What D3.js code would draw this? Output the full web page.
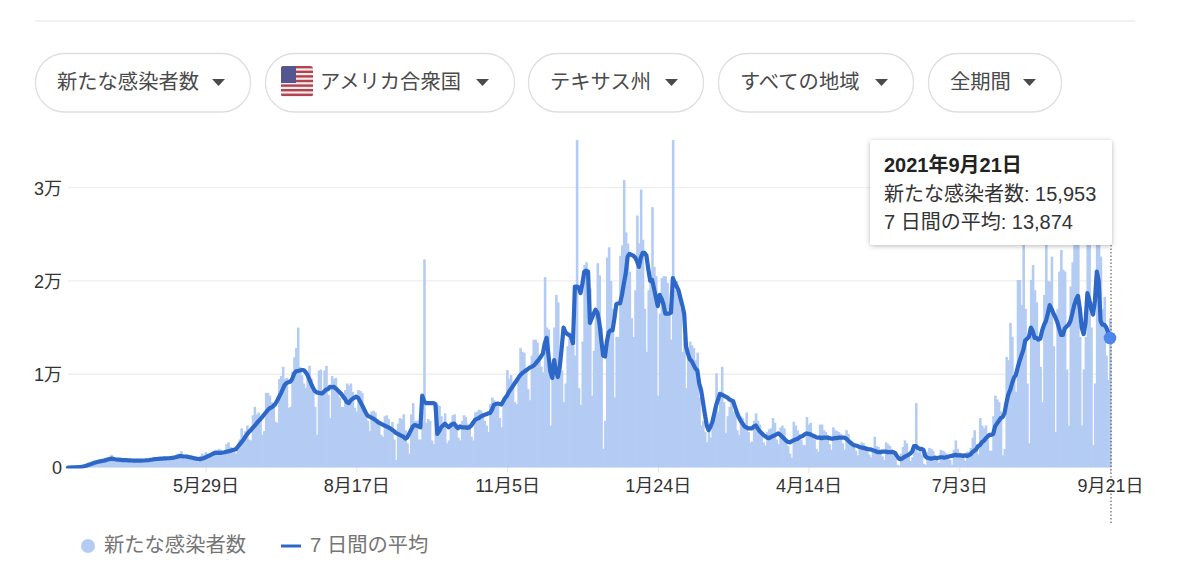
<!DOCTYPE html>
<html lang="ja">
<head>
<meta charset="utf-8">
<script src="https://cdn.jsdelivr.net/npm/d3@7"></script>
<style>
html,body{margin:0;padding:0;background:#fff;}
svg{display:block;}
text{font-family:"Liberation Sans","Noto Sans CJK JP",sans-serif;}
</style>
</head>
<body>
<div id="chart"></div>
<script>
// ---------- data ----------
const startDate = "2020-03-17";
const endDate = "2021-09-21";
const filterLabels = ["新たな感染者数","アメリカ合衆国","テキサス州","すべての地域","全期間"];
const seriesNames = ["新たな感染者数","7 日間の平均"];
const xTickDates = ["2020-05-29","2020-08-17","2020-11-05","2021-01-24","2021-04-14","2021-07-03","2021-09-21"];
const xTickLabels = ["5月29日","8月17日","11月5日","1月24日","4月14日","7月3日","9月21日"];
const yTickValues = [0,10000,20000,30000];
const yTickLabels = ["0","1万","2万","3万"];
const tooltipTitle = "2021年9月21日";
const tooltipCases = 15953;
const tooltipAverage = 13874;

const dailyCases = [
10,10,30,30,40,50,60,90,120,230,
310,420,500,560,620,680,770,800,720,680,
640,950,1100,1350,1000,800,640,650,880,900,
880,900,800,620,600,830,840,880,850,760,
560,550,850,880,950,1050,800,700,680,1050,
1100,1150,1100,950,780,800,1200,1300,1450,1500,
1750,1000,950,1350,1250,1200,1100,900,700,650,
1200,1500,1350,1650,1500,1250,1200,1800,1900,1850,
2000,1900,1300,1350,2500,2700,2200,2100,1900,1500,
2200,3000,4200,3500,3900,4500,3000,2900,5600,6500,
5700,5900,5200,3500,3900,8000,8000,7700,7000,6900,
4900,4800,9500,9800,10800,9500,9600,6400,6500,10300,
11800,12800,15000,10800,9900,9000,8500,10300,10900,9500,
8500,6500,3500,10400,10500,8300,10400,10900,7800,5300,
9800,9500,9600,8400,7500,6500,6500,8300,9000,8800,
9000,8100,6400,6000,8300,8200,8000,6500,5800,5000,
3900,6000,6100,5900,5200,4700,3500,3300,5500,5600,
5200,4000,4900,3000,800,4700,5300,5200,5700,4000,
2600,1500,5700,6900,5000,5000,3000,3000,4800,22300,
4800,5200,5000,2900,2500,6500,6700,6600,5500,4600,
5800,2600,2900,4900,5600,5700,4700,3200,2900,5000,
5600,5400,4700,4300,3300,2900,5900,6000,6200,6100,
5800,5000,4500,3800,6800,7500,7200,7000,6600,5300,
4300,7500,7600,10450,9500,9900,8800,7000,6800,9900,
12800,12400,12300,10500,8400,7200,12000,13700,13700,13400,
11500,10800,10200,20400,15000,14800,4500,9400,15000,18500,
17700,12000,10400,7000,9000,13000,14500,13800,13000,12000,
40000,8500,6700,13500,21700,22000,17000,19200,7700,12500,
17000,21900,20600,15000,2000,5000,22500,23600,20000,17000,
7500,14000,14000,22700,23800,30800,25200,24000,21000,16000,
14000,19000,27000,24000,29800,24400,17000,12400,19000,21000,
27900,21500,20500,7700,16500,20300,20500,20500,19800,17500,
13700,40000,19000,20000,18500,17000,12400,14000,8500,12500,
13500,13100,12800,11500,12300,7500,4500,5000,3800,2700,
4000,3200,5000,5800,10100,6000,7500,10800,7000,3700,
5500,6500,7300,6000,6200,4000,3500,5500,5300,4800,
5900,3800,2700,2800,5000,5800,5000,4600,3800,2700,
2400,3800,4100,4200,5300,4800,3000,2500,4300,4500,
4200,3000,2300,1500,1000,4900,4500,4000,3600,3000,
2400,2400,5400,4600,4800,3500,3000,2000,1700,4600,
4600,4000,3800,3500,2500,1900,4300,4000,3900,3800,
3600,2600,1900,4000,3600,2800,2500,2500,1800,1300,
2400,2700,2600,2300,2000,1400,1100,2000,3300,2300,
2200,1500,1200,800,2700,2500,2300,2000,1700,1000,
300,200,1500,2200,2900,2600,1400,700,1100,2000,
6900,1600,2100,1400,400,300,1700,2100,2000,1800,
1300,800,500,1900,1800,1700,1500,1200,800,300,
1900,2900,2000,1600,1300,1000,700,1700,1700,2100,
3200,4000,2000,1400,5300,4500,4200,4500,3000,1800,
1800,5500,7700,7300,7000,6000,1300,2000,11850,11500,
15500,14000,9500,8100,20100,20100,17400,27000,17000,9000,
2600,20100,21700,19000,17700,14000,10800,7000,18500,27000,
20000,19900,22600,13000,3800,17000,21000,23300,21200,21000,
10500,4500,19400,22000,25000,27000,27000,14000,4500,10500,
14000,27000,27000,15000,2400,9000,24000,27000,22600,17000,
18300,12000,9400,15953
];

const sevenDayAverage = [
0,0,10,20,20,30,50,70,110,160,
220,290,360,430,500,560,610,660,700,740,
790,850,900,950,920,880,850,840,820,800,
790,780,770,760,750,740,730,730,730,740,
750,760,780,800,830,860,890,910,930,950,
960,970,980,990,1000,1020,1060,1100,1150,1210,
1230,1200,1180,1170,1130,1090,1050,1000,950,920,
900,950,1000,1080,1180,1280,1380,1480,1550,1580,
1570,1560,1580,1620,1680,1730,1780,1840,1900,1950,
2200,2450,2700,2950,3250,3550,3800,4000,4250,4450,
4700,4950,5150,5400,5650,5900,6150,6350,6450,6600,
6800,7150,7550,7950,8400,8850,9050,9150,9200,9500,
10050,10300,10350,10400,10450,10450,10250,9950,9500,9000,
8550,8200,8050,8000,7950,7950,8150,8350,8400,8650,
8600,8650,8500,8300,8100,7900,7600,7350,7000,6900,
7200,7350,7500,7600,7450,7100,6700,6300,5900,5550,
5450,5350,5250,5100,4950,4800,4700,4600,4500,4400,
4300,4200,4050,3900,3700,3600,3500,3400,3300,3100,
3200,3600,4000,4400,4550,4500,4400,4300,7700,7100,
6900,6900,6900,6900,6900,6800,3600,3900,4300,4500,
4700,4500,4300,4500,4650,4700,4400,4200,4400,4300,
4300,4300,4250,4300,4500,4800,5100,5200,5300,5450,
5550,5650,5700,5800,5850,6200,6700,6800,6850,6800,
6750,7100,7450,7700,8100,8400,8700,9000,9300,9600,
9900,10100,10250,10400,10550,10700,10780,10900,11100,11350,
11600,11900,12200,13300,13900,12000,10300,9600,11500,10300,
9700,10800,12800,15000,14500,14300,14200,14000,13300,19400,
19400,19300,18700,19700,21000,21100,21000,15500,16000,16500,
16900,16600,15500,13700,12000,11900,13500,14500,14700,14700,
16000,17500,17600,17600,18500,19700,20800,22600,22900,22800,
22700,22500,22100,21500,22500,23000,23000,22700,21200,20000,
20100,19200,18200,17300,18500,18100,17500,16500,16500,16500,
16600,20300,19800,19400,19000,18200,17400,16500,13000,12200,
11600,11400,11000,10600,10400,9000,8300,7000,5700,4500,
4000,4400,4900,5800,6700,7300,7900,7800,7700,7600,
7500,7300,7200,7100,6500,5900,5400,5000,4700,4400,
4300,4200,4200,4200,4400,4500,4200,3900,3700,3500,
3350,3200,3150,3250,3350,3450,3550,3650,3500,3300,
3100,2900,2750,2700,2800,2900,3000,3050,3200,3300,
3400,3550,3650,3600,3550,3450,3350,3250,3200,3200,
3150,3200,3200,3200,3150,3100,3100,3150,3150,3200,
3200,3200,3200,3100,2900,2700,2550,2400,2350,2300,
2200,2150,2100,2050,2000,1950,1950,1850,1800,1700,
1650,1650,1700,1700,1700,1650,1650,1650,1650,1550,
1200,950,900,1000,1150,1250,1350,1500,1700,2300,
2300,2100,2000,2000,1900,1200,1050,1000,950,1000,
1050,1000,1050,1100,1100,1050,1100,1150,1200,1250,
1300,1350,1300,1300,1300,1250,1300,1250,1300,1400,
1650,1800,1950,2300,2400,2700,2850,3100,3300,3500,
3500,3600,4400,4700,5000,5300,5400,5800,6900,7800,
8300,9000,9600,9900,10700,11400,12000,12600,13600,13800,
14000,15000,14600,13900,13900,13700,13800,14700,15300,15700,
16500,17400,17000,16500,16100,15600,14900,14200,14200,14900,
15100,15300,15700,16500,17400,18000,18400,17000,15000,14300,
15500,18700,18000,17000,16400,17900,21000,20000,15700,15300,
15300,15000,14500,13874
];

// ---------- layout ----------
const W = 1200, H = 578;
const plotTop = 140, plotBottom = 467.5, plotLeft = 68, plotRight = 1110;
const pills = [[35,215],[265,249],[528,175],[718,195],[928,133]];
const parse = d3.utcParse("%Y-%m-%d");
const dayCount = dailyCases.length;
const dateAt = i => d3.utcDay.offset(parse(startDate), i);

const x = d3.scaleUtc().domain([parse(startDate), parse(endDate)]).range([plotLeft, plotRight]);
const y = d3.scaleLinear().domain([0, 35100]).range([plotBottom, plotTop]);

const svg = d3.select("#chart").append("svg").attr("width", W).attr("height", H).attr("viewBox", [0,0,W,H]);
const defs = svg.append("defs");
defs.append("clipPath").attr("id","plotClip").append("rect")
  .attr("x", plotLeft-3).attr("y", plotTop).attr("width", plotRight-plotLeft+6).attr("height", plotBottom-plotTop+1);
defs.append("clipPath").attr("id","flagClip").append("rect")
  .attr("x",281).attr("y",66).attr("width",32).attr("height",31).attr("rx",3);
const shadow = defs.append("filter").attr("id","tipShadow").attr("x","-10%").attr("y","-10%").attr("width","120%").attr("height","130%");
shadow.append("feDropShadow").attr("dx",0).attr("dy",1).attr("stdDeviation",2.5).attr("flood-color","#000").attr("flood-opacity",0.28);

// header rule
svg.append("line").attr("x1",35).attr("x2",1135).attr("y1",21).attr("y2",21).attr("stroke","#ececec").attr("stroke-width",1.5);

// filter pills
const pill = svg.append("g").selectAll("g").data(filterLabels).join("g");
pill.append("rect")
  .attr("x",(d,i)=>pills[i][0]+.5).attr("y",53.5)
  .attr("width",(d,i)=>pills[i][1]).attr("height",58.5).attr("rx",29)
  .attr("fill","#fff").attr("stroke","#dedede").attr("stroke-width",1.3);
pill.append("text")
  .attr("x",(d,i)=>pills[i][0]+(i===1?55:22)).attr("y",89)
  .attr("font-size",20.3).attr("fill","#4a4a4a").text(d=>d);
pill.append("path")
  .attr("transform",(d,i)=>`translate(${pills[i][0]+pills[i][1]-31.5},79)`)
  .attr("d","M-6.5,0L6.5,0L0,7Z").attr("fill","#4a4a4a");

// flag
const flag = svg.append("g").attr("clip-path","url(#flagClip)");
flag.append("rect").attr("x",281).attr("y",66).attr("width",32).attr("height",31).attr("fill","#f3eeee");
d3.range(7).forEach(k=>flag.append("rect").attr("x",281).attr("y",66+k*4.6).attr("width",32).attr("height",2.4).attr("fill","#b5424f"));
flag.append("rect").attr("x",281).attr("y",66).attr("width",15).attr("height",17).attr("fill","#54568f");

// gridlines + y axis
const yAxis = d3.axisLeft(y).tickValues(yTickValues).tickSize(0).tickPadding(0)
  .tickFormat((d,i)=>yTickLabels[i]);
const yg = svg.append("g").attr("transform",`translate(62,0)`).call(yAxis);
yg.select(".domain").remove();
yg.selectAll("text").attr("font-size",18).attr("fill","#333").attr("dy","0.36em")
  .style("font-family",'"Liberation Sans","Noto Sans CJK JP",sans-serif');
svg.append("g").selectAll("line").data(yTickValues.slice(1)).join("line")
  .attr("x1",plotLeft).attr("x2",plotRight).attr("y1",d=>y(d)).attr("y2",d=>y(d))
  .attr("stroke","#eeeeee").attr("stroke-width",1.4);

// x axis
const xAxis = d3.axisBottom(x).tickValues(xTickDates.map(d=>parse(d))).tickSize(5).tickPadding(7)
  .tickFormat((d,i)=>xTickLabels[i]);
const xg = svg.append("g").attr("transform",`translate(0,${plotBottom})`).call(xAxis);
xg.select(".domain").remove();
xg.selectAll("line").attr("stroke","#e3e3e3");
xg.selectAll("text").attr("font-size",18).attr("fill","#333")
  .style("font-family",'"Liberation Sans","Noto Sans CJK JP",sans-serif');

// bars
const barW = (plotRight-plotLeft)/(dayCount-1);
const plot = svg.append("g").attr("clip-path","url(#plotClip)");
plot.append("g").selectAll("rect").data(dailyCases).join("rect")
  .attr("x",(d,i)=>x(dateAt(i))-barW/2)
  .attr("y",d=>y(d))
  .attr("width",barW+0.7)
  .attr("height",d=>plotBottom-y(d))
  .attr("fill","#b4ccf3");

// 7-day line
const line = d3.line().x((d,i)=>x(dateAt(i))).y(d=>y(d));
plot.append("path").datum(sevenDayAverage).attr("d",line)
  .attr("fill","none").attr("stroke","#2d68c9").attr("stroke-width",4.2).attr("stroke-linejoin","round").attr("stroke-linecap","round");

// hover marker
const lastDate = parse(endDate);
svg.append("line").attr("x1",x(lastDate)+1).attr("x2",x(lastDate)+1).attr("y1",245).attr("y2",524)
  .attr("stroke","#444").attr("stroke-width",1).attr("stroke-dasharray","1.5,2");
svg.append("circle").attr("cx",x(lastDate)).attr("cy",y(tooltipAverage)).attr("r",6.3).attr("fill","#4f86ea");

// tooltip
const fmt = d3.format(",");
const tip = svg.append("g");
tip.append("rect").attr("x",870).attr("y",140).attr("width",242).attr("height",105).attr("rx",3)
  .attr("fill","#fff").attr("filter","url(#tipShadow)");
tip.append("text").attr("x",884).attr("y",172).attr("font-size",20).attr("font-weight",700).attr("fill","#222").text(tooltipTitle);
tip.append("text").attr("x",884).attr("y",201).attr("font-size",20).attr("fill","#333").text(`${seriesNames[0]}: ${fmt(tooltipCases)}`);
tip.append("text").attr("x",884).attr("y",229).attr("font-size",20).attr("fill","#333").text(`${seriesNames[1]}: ${fmt(tooltipAverage)}`);

// legend
svg.append("circle").attr("cx",88).attr("cy",546).attr("r",7).attr("fill","#b4ccf3");
svg.append("text").attr("x",104).attr("y",552).attr("font-size",20.3).attr("fill","#757575").text(seriesNames[0]);
svg.append("line").attr("x1",281).attr("x2",301).attr("y1",546).attr("y2",546).attr("stroke","#2d68c9").attr("stroke-width",3);
svg.append("text").attr("x",310).attr("y",552).attr("font-size",20.3).attr("fill","#757575").text(seriesNames[1]);
</script>
</body>
</html>
